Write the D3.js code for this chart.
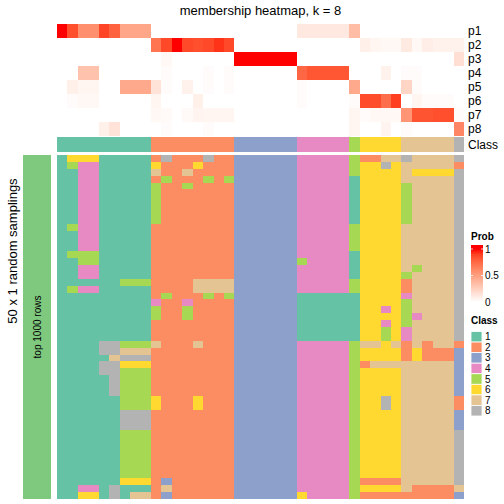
<!DOCTYPE html>
<html><head><meta charset="utf-8">
<script src="https://cdn.jsdelivr.net/npm/d3@7"></script>
<style>
body{margin:0;background:#fff}
svg{display:block}
text{font-family:"Liberation Sans",Arial,Helvetica,sans-serif;fill:#000}
</style>
</head><body>
<svg id="chart" width="504" height="504"></svg>
<script>
// ---------- data ----------
const titleText = "membership heatmap, k = 8";
const probRowNames = ["p1","p2","p3","p4","p5","p6","p7","p8"];
const p1 = [1.0,0.85,0.58,0.58,0.88,0.78,0.47,0.47,0.47, 0,0,0,0,0,0,0,0, 0,0,0,0,0,0, 0.12,0.12,0.12,0.12,0.12, 0.35, 0,0,0,0, 0,0,0,0,0, 0];
const p2 = [0,0,0,0,0,0,0,0,0, 0.7,0.87,1.0,0.87,0.85,0.87,0.93,0.87, 0,0,0,0,0,0, 0,0,0,0,0, 0, 0.08,0.05,0.04,0.04, 0.11,0.04,0.09,0.07,0.07, 0.07];
const p3 = [0,0,0,0,0,0,0,0,0, 0,0.04,0,0,0,0,0,0, 1,1,1,1,1,1, 0,0,0,0,0, 0, 0,0,0,0, 0,0,0,0,0, 0.17];
const p4 = [0,0,0.32,0.32,0,0,0,0,0, 0,0.02,0,0,0,0.02,0,0.02, 0,0,0,0,0,0, 0.76,0.82,0.82,0.82,0.82, 0, 0,0,0.07,0, 0.02,0.02,0,0,0, 0];
const p5 = [0,0.08,0.05,0.05,0,0,0.45,0.45,0.45, 0.15,0.02,0,0.07,0,0.02,0,0.02, 0,0,0,0,0,0, 0.02,0,0,0,0, 0.45, 0,0,0,0, 0.22,0.02,0,0,0, 0];
const p6 = [0,0.02,0.04,0.04,0,0,0,0,0, 0.05,0,0,0,0.08,0,0,0, 0,0,0,0,0,0, 0.02,0,0,0,0, 0.02, 0.86,0.86,0.73,0.9, 0,0.05,0.02,0.02,0.02, 0];
const p7 = [0,0,0,0,0,0,0,0,0, 0.04,0.03,0,0.03,0.06,0.05,0.05,0.05, 0,0,0,0,0,0, 0,0,0,0,0, 0.05, 0.02,0.04,0.04,0.04, 0.55,0.83,0.83,0.85,0.85, 0.02];
const p8 = [0,0,0,0,0.08,0.15,0,0,0, 0,0.02,0,0,0,0.02,0,0, 0,0,0,0,0,0, 0,0,0,0,0, 0.05, 0,0,0.06,0, 0.02,0,0,0,0, 0.62];
const columnClass = [1,1,1,1,1,1,1,1,1, 2,2,2,2,2,2,2,2, 3,3,3,3,3,3, 4,4,4,4,4, 5, 6,6,6,6, 7,7,7,7,7, 8];
const classNames = ["1","2","3","4","5","6","7","8"];
const classColors = ["#66C2A5","#FC8D62","#8DA0CB","#E78AC3","#A6D854","#FFD92F","#E5C494","#B3B3B3"];
const probTicks = [0, 0.5, 1];
const samplingRows = [
"166611111 28222822 333333 44444 5 2277 87777 8",
"154411111 62226222 333333 44444 5 6686 77777 2",
"114411111 72272222 333333 44444 5 6666 76666 8",
"114411111 25222525 333333 44444 1 6666 77777 8",
"114411111 52252222 333333 44444 1 6666 57777 8",
"114411111 52222222 333333 44444 1 6666 57777 8",
"114411111 52222222 333333 44444 1 6666 57777 8",
"114411111 52222222 333333 44444 1 6666 57777 8",
"114411111 52222222 333333 44444 1 6666 57777 8",
"114411111 52222222 333333 44444 1 6666 57777 8",
"154411111 22222222 333333 44444 5 6666 77777 8",
"114411111 22222222 333333 44444 5 6666 77777 8",
"114411111 22222222 333333 44444 5 6666 77777 8",
"114411111 22222222 333333 44444 5 6666 77777 8",
"155511111 22222222 333333 44444 1 6666 77777 8",
"115511111 22222222 333333 54444 1 6666 77777 8",
"114411111 22222222 333333 44444 1 6666 75777 8",
"114411111 22222222 333333 44444 1 6666 57777 8",
"111111555 22227777 333333 44444 5 6666 27777 8",
"154411111 22227777 333333 44444 5 6666 27777 8",
"111111111 25222525 333333 11111 1 6666 47777 8",
"111111111 42242222 333333 11111 1 6666 57777 8",
"111111111 52252222 333333 11111 1 6646 57777 8",
"111111111 52252222 333333 11111 1 6666 54777 8",
"111111111 22222222 333333 11111 1 6646 57777 8",
"111111111 22222222 333333 11111 1 6656 47777 8",
"111111111 22222222 333333 11111 1 6656 47777 8",
"111188555 72227222 333333 44444 5 7767 27277 2",
"111188777 22222222 333333 44444 5 6666 26222 3",
"111117888 22222222 333333 44444 5 6666 26222 3",
"111188666 22222222 333333 44444 5 2777 77777 3",
"111188555 22222222 333333 44444 5 6666 77777 3",
"111118555 22222222 333333 44444 5 6666 77777 3",
"111118555 22222222 333333 44444 5 6666 77777 3",
"111118555 22222222 333333 44444 5 6666 77777 3",
"111111555 62226222 333333 44444 5 6686 77777 2",
"111111555 62226222 333333 44444 5 6686 77777 2",
"111111888 22222222 333333 44444 5 6666 77777 3",
"111111888 22222222 333333 44444 5 6666 77777 3",
"111111888 22222222 333333 44444 5 6666 77777 3",
"111111555 22222222 333333 44444 5 6666 77777 8",
"111111555 22222222 333333 44444 5 6666 77777 8",
"111111555 22222222 333333 44444 5 6666 77777 8",
"111111555 22222222 333333 44444 5 6666 77777 8",
"111111555 22222222 333333 44444 5 6666 77777 8",
"111111555 22222222 333333 44444 5 6666 77777 8",
"111111555 22222222 333333 44444 5 6666 77777 8",
"111111666 23222222 333333 44444 5 2222 77777 8",
"114418111 27222222 333333 44444 5 6666 72222 7",
"116618177 23222222 333333 64444 5 2222 22222 3"
];

// ---------- drawing ----------
const probMatrix = [p1,p2,p3,p4,p5,p6,p7,p8];
const nCols = columnClass.length;
const svg = d3.select("#chart");

const x = d3.scaleBand().domain(d3.range(nCols)).range([57, 464]);
const yTop = d3.scaleBand().domain(probRowNames).range([24, 136]);
const yBot = d3.scaleBand().domain(d3.range(samplingRows.length)).range([155, 499]);
const probColor = d3.scaleLinear().domain([0,1]).range(["#FFFFFF","#FF0000"]).interpolate(d3.interpolateLab);
const classColor = d3.scaleOrdinal().domain(classNames).range(classColors);

// pixel-snapped cell geometry (avoids anti-aliased seams between cells)
const snapX = j => Math.round(x(j));
const snapW = j => Math.round(x(j) + x.bandwidth()) - Math.round(x(j));
const snapY = (sc, r) => Math.round(sc(r));
const snapH = (sc, r) => Math.round(sc(r) + sc.bandwidth()) - Math.round(sc(r));

// title
svg.append("text").attr("x", 260.5).attr("y", 15).attr("text-anchor","middle")
  .style("font-size","13px").text(titleText);

// top membership heatmap
const topCells = [];
probMatrix.forEach((row, i) => row.forEach((v, j) => topCells.push({r: probRowNames[i], c: j, v})));
svg.append("g").attr("shape-rendering","crispEdges").selectAll("rect").data(topCells).join("rect")
  .attr("x", d => snapX(d.c)).attr("y", d => snapY(yTop, d.r))
  .attr("width", d => snapW(d.c)).attr("height", d => snapH(yTop, d.r))
  .attr("fill", d => probColor(d.v));

// class annotation
svg.append("g").attr("shape-rendering","crispEdges").selectAll("rect").data(columnClass).join("rect")
  .attr("x", (d, j) => snapX(j)).attr("y", 137)
  .attr("width", (d, j) => snapW(j)).attr("height", 15)
  .attr("fill", d => classColor(String(d)));

// row labels
svg.append("g").selectAll("text").data(probRowNames).join("text")
  .attr("x", 468).attr("y", d => yTop(d) + yTop.bandwidth()/2)
  .attr("dominant-baseline","central").style("font-size","12px").text(d => d);
svg.append("text").attr("x", 468).attr("y", 145).attr("dominant-baseline","central")
  .style("font-size","12px").text("Class");

// bottom sampling heatmap
const botCells = [];
samplingRows.forEach((s, i) => {
  const digits = s.replace(/ /g, "");
  for (let j = 0; j < digits.length; j++) botCells.push({r: i, c: j, k: digits[j]});
});
svg.append("g").attr("shape-rendering","crispEdges").selectAll("rect").data(botCells).join("rect")
  .attr("x", d => snapX(d.c)).attr("y", d => snapY(yBot, d.r))
  .attr("width", d => snapW(d.c)).attr("height", d => snapH(yBot, d.r))
  .attr("fill", d => classColor(d.k));

// left annotation
svg.append("rect").attr("x", 23).attr("y", 155).attr("width", 28).attr("height", 344)
  .attr("fill", "#7FC97F").attr("shape-rendering","crispEdges");
svg.append("text").attr("transform", "translate(37,327) rotate(-90)")
  .attr("text-anchor","middle").attr("dominant-baseline","central")
  .style("font-size","10px").text("top 1000 rows");
svg.append("text").attr("transform", "translate(12,251) rotate(-90)")
  .attr("text-anchor","middle").attr("dominant-baseline","central")
  .style("font-size","13px").text("50 x 1 random samplings");

// legend: Prob
const lg = svg.append("g");
lg.append("text").attr("x", 471).attr("y", 240).style("font-size","10px").style("font-weight","bold").text("Prob");
const grad = svg.append("defs").append("linearGradient").attr("id","probGrad")
  .attr("x1","0").attr("y1","1").attr("x2","0").attr("y2","0");
d3.range(0, 1.0001, 0.1).forEach(t => grad.append("stop").attr("offset", t).attr("stop-color", probColor(t)));
const yLeg = d3.scaleLinear().domain([0,1]).range([302, 249]);
lg.append("rect").attr("x", 471).attr("y", 245).attr("width", 12).attr("height", 4).attr("fill", probColor(1));
lg.append("rect").attr("x", 471).attr("y", yLeg(1)).attr("width", 12).attr("height", yLeg(0) - yLeg(1))
  .attr("fill","url(#probGrad)");
probTicks.forEach(t => {
  lg.append("line").attr("x1", 471).attr("x2", 473).attr("y1", yLeg(t)).attr("y2", yLeg(t)).attr("stroke","#fff").attr("stroke-width",0.8);
  lg.append("line").attr("x1", 481).attr("x2", 483).attr("y1", yLeg(t)).attr("y2", yLeg(t)).attr("stroke","#fff").attr("stroke-width",0.8);
});
lg.selectAll("text.tick").data(probTicks).join("text").attr("class","tick")
  .attr("x", 485).attr("y", d => yLeg(d)).attr("dominant-baseline","central")
  .style("font-size","10px").text(d => d);

// legend: Class
const cg = svg.append("g");
cg.append("text").attr("x", 471).attr("y", 324).style("font-size","10px").style("font-weight","bold").text("Class");
const ySw = d3.scaleBand().domain(classNames).range([331.5, 416]);
cg.selectAll("rect").data(classNames).join("rect")
  .attr("x", 471).attr("y", d => ySw(d)).attr("width", 11).attr("height", ySw.bandwidth())
  .attr("fill", d => classColor(d)).attr("stroke","#fff").attr("stroke-width",0.8);
cg.selectAll("text.lab").data(classNames).join("text").attr("class","lab")
  .attr("x", 485).attr("y", d => ySw(d) + ySw.bandwidth()/2).attr("dominant-baseline","central")
  .style("font-size","10px").text(d => d);
</script>
</body></html>
